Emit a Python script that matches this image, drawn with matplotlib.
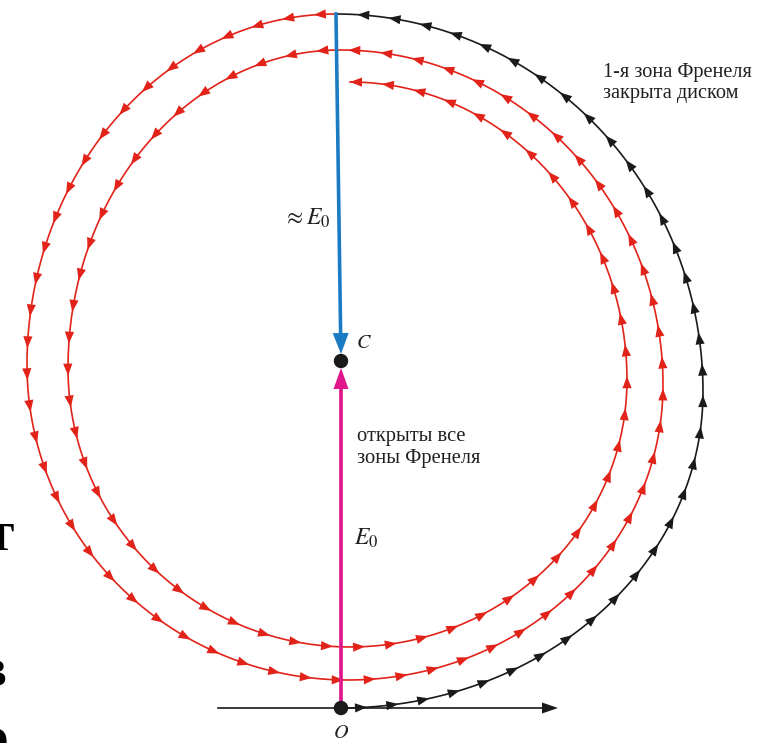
import numpy as np
import matplotlib
matplotlib.use("Agg")
import matplotlib.pyplot as plt
from matplotlib.patches import Polygon, Circle

plt.rcParams['font.family'] = ['Liberation Serif', 'DejaVu Serif']
plt.rcParams['mathtext.fontset'] = 'stix'

W, H = 762, 743

# Turning points of the Fresnel vibration spiral (diagram units, y grows downwards)
bottom_x = [341, 348, 350]
bottom_y = [708, 680, 647]
right_x = [703, 663, 627]
right_y = [392, 385, 380]
top_x = [336, 340, 350]
top_y = [14, 50, 82]
left_x = [27, 68]
left_y = [365, 368]

origin_O = (341, 708)
centre_C = (341, 361)
axis_x = [218, 558]

RED = '#e2231a'
BLACK = '#1a1a1a'
BLUE = '#1b7cc4'
PINK = '#e0168a'
TEXT = '#231f20'


def quarter(a, b, from_horizontal):
    """Quarter-ellipse between an extreme in y (horizontal tangent) and an extreme in x."""
    t = np.linspace(0, np.pi / 2, 80)
    if from_horizontal:
        x = a[0] + (b[0] - a[0]) * np.sin(t)
        y = b[1] + (a[1] - b[1]) * np.cos(t)
    else:
        x = b[0] + (a[0] - b[0]) * np.cos(t)
        y = a[1] + (b[1] - a[1]) * np.sin(t)
    return np.column_stack([x, y])


def chain(points, first_horizontal=True):
    segs = []
    horiz = first_horizontal
    for a, b in zip(points[:-1], points[1:]):
        s = quarter(a, b, horiz)
        segs.append(s if not segs else s[1:])
        horiz = not horiz
    return np.vstack(segs)


B = list(zip(bottom_x, bottom_y))
R = list(zip(right_x, right_y))
T = list(zip(top_x, top_y))
L = list(zip(left_x, left_y))

black_pts = [B[0], R[0], T[0]]
red_pts = [T[0], L[0], B[1], R[1], T[1], L[1], B[2], R[2], T[2]]

black_path = chain(black_pts, True)
red_path = chain(red_pts, True)


def arclen(p):
    d = np.hypot(*np.diff(p, axis=0).T)
    return np.concatenate([[0], np.cumsum(d)])


def point_dir(p, s_all, s):
    i = np.searchsorted(s_all, s)
    i = min(max(i, 1), len(p) - 1)
    f = (s - s_all[i - 1]) / (s_all[i] - s_all[i - 1])
    pt = p[i - 1] + f * (p[i] - p[i - 1])
    d = p[i] - p[i - 1]
    d = d / np.hypot(*d)
    return pt, d


def head(ax, tip, d, color, length=12, half=4.6, z=3):
    n = np.array([-d[1], d[0]])
    base = tip - length * d
    tri = np.array([tip, base + half * n, base - half * n])
    ax.add_patch(Polygon(tri, closed=True, facecolor=color, edgecolor='none', zorder=z))


fig = plt.figure(figsize=(W / 100, H / 100), dpi=100)
ax = fig.add_axes([0, 0, 1, 1])
ax.set_xlim(0, W)
ax.set_ylim(H, 0)
ax.axis('off')

# horizontal axis with arrow
ax.plot([axis_x[0], axis_x[1] - 8], [origin_O[1]] * 2, color=BLACK, lw=1.2, zorder=2)
head(ax, np.array([axis_x[1], origin_O[1]]), np.array([1.0, 0.0]), BLACK, length=16, half=5.5)

# spiral: first Fresnel zone (black) and the remaining zones (red)
ax.plot(black_path[:, 0], black_path[:, 1], color=BLACK, lw=1.2, zorder=2)
ax.plot(red_path[:, 0], red_path[:, 1], color=RED, lw=1.2, zorder=2)

sb = arclen(black_path)
s = 26.0
while s < sb[-1] - 8:
    pt, d = point_dir(black_path, sb, s)
    head(ax, pt, d, BLACK)
    s += 31.5

sr = arclen(red_path)
s = sr[-1]
while s > 12:
    pt, d = point_dir(red_path, sr, s)
    head(ax, pt, d, RED)
    s -= 32.0

# vector from the end of the first zone to the centre
vb = np.array([centre_C[0] - top_x[0], centre_C[1] - top_y[0]], dtype=float)
vb /= np.hypot(*vb)
ax.plot([top_x[0], centre_C[0] - 0.3], [top_y[0], centre_C[1] - 22], color=BLUE, lw=2.6, zorder=4)
head(ax, np.array([centre_C[0], centre_C[1] - 7.0]), vb, BLUE, length=21, half=8, z=5)

# vector of the fully open wavefront
ax.plot([origin_O[0]] * 2, [origin_O[1], centre_C[1] + 25], color=PINK, lw=2.6, zorder=4)
head(ax, np.array([centre_C[0], centre_C[1] + 7.0]), np.array([0.0, -1.0]),
     PINK, length=21, half=7.5, z=5)

ax.add_patch(Circle(centre_C, 6.5, color=BLACK, zorder=6))
ax.add_patch(Circle(origin_O, 6.5, color=BLACK, zorder=6))

# labels
ax.text(603, 77, '1-я зона Френеля', fontsize=14.6, color=TEXT, ha='left', va='baseline')
ax.text(603, 98, 'закрыта диском', fontsize=14.6, color=TEXT, ha='left', va='baseline')
ax.text(357, 441, 'открыты все', fontsize=14.8, color=TEXT, ha='left', va='baseline')
ax.text(357, 463, 'зоны Френеля', fontsize=14.8, color=TEXT, ha='left', va='baseline')

ax.text(283, 225, r'$\approx E_0$', fontsize=17, color=TEXT, ha='left', va='baseline')
ax.text(354, 545, r'$E_0$', fontsize=17, color=TEXT, ha='left', va='baseline')
ax.text(356, 348, r'$C$', fontsize=14.5, color=TEXT, ha='left', va='baseline')
ax.text(341, 738, r'$O$', fontsize=14.5, color=TEXT, ha='center', va='baseline')

# fragments of neighbouring large text at the left edge
ax.text(14, 550, 'т', fontsize=42, color='black', ha='right', va='baseline')
ax.text(7, 686, 'в', fontsize=40, color='black', ha='right', va='baseline', fontweight='bold')
ax.text(9, 756, 'о', fontsize=40, color='black', ha='right', va='baseline', fontweight='bold')

fig.savefig('out.png', dpi=100)
